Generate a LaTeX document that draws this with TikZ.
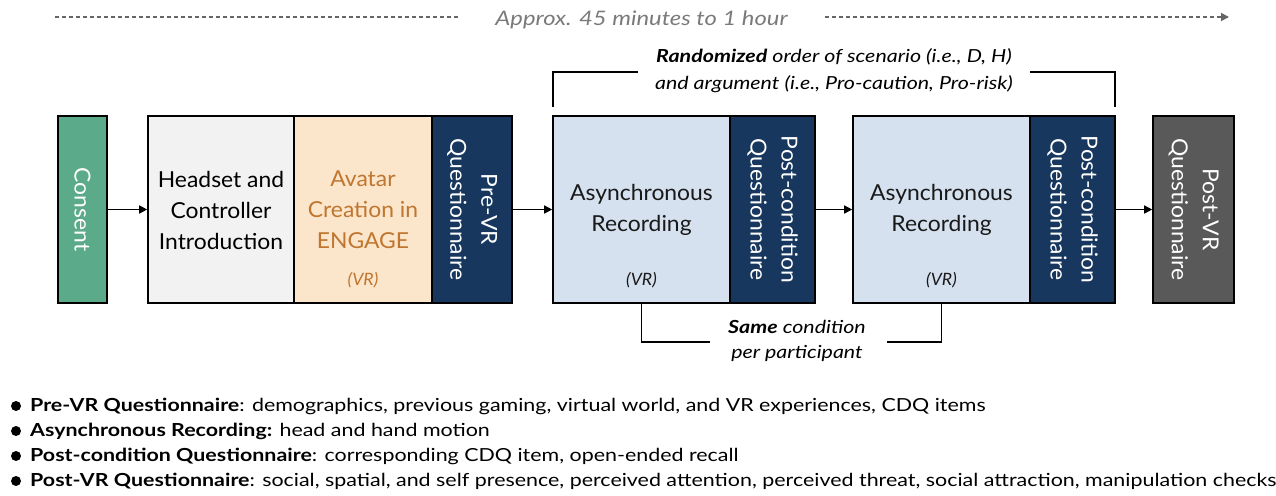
\documentclass[tikz,border=0pt]{standalone}
\usepackage{fontspec}
\setmainfont{Lato}[FakeStretch=1.04]
\newfontfamily\widefont{Lato}[FakeStretch=1.19]
\usetikzlibrary{arrows.meta}

\definecolor{consentgreen}{HTML}{5BAA89}
\definecolor{introgray}{HTML}{F2F2F2}
\definecolor{avatarpeach}{HTML}{FBE5CB}
\definecolor{avatartext}{HTML}{C0762F}
\definecolor{qnavy}{HTML}{17375E}
\definecolor{reclight}{HTML}{D5E1EF}
\definecolor{postgray}{HTML}{595959}
\definecolor{timegray}{HTML}{7A7A7A}
\definecolor{dashgray}{HTML}{666666}

\begin{document}
\begin{tikzpicture}[x=1pt,y=-1pt,
  box/.style={draw=black, line width=1.6pt, inner sep=0pt, minimum height=187},
  boxtext/.style={align=center, font=\fontsize{22}{31}\selectfont, inner sep=0pt},
  rottext/.style={boxtext, rotate=-90, text=white},
  vrtag/.style={anchor=base, inner sep=0pt, font=\fontsize{17}{20}\selectfont\itshape},
  note/.style={anchor=base, inner sep=0pt, font=\widefont\fontsize{18}{22}\selectfont\itshape},
  legend/.style={anchor=base west, inner sep=0pt, font=\widefont\fontsize{18}{22}\selectfont},
  flow/.style={line width=1.5pt, -{Triangle[length=8pt,width=8pt]}},
  bracket/.style={line width=1.2pt},
  timeline/.style={dashgray, line width=1.8pt, dash pattern=on 4pt off 3pt}
]
\useasboundingbox (0,0) rectangle (1276,495);

% time span
\coordinate (tlA) at (55,17);
\coordinate (tlB) at (458,17);
\coordinate (tlC) at (825,17);
\coordinate (tlD) at (1229,17);
\draw[timeline] (tlA) -- (tlB);
\draw[timeline, -{Triangle[length=8pt,width=8pt]}] (tlC) -- (tlD);
\node[anchor=base, inner sep=0pt, text=timegray, font=\widefont\fontsize{20}{24}\selectfont\itshape] (time) at (641.5,26) {Approx. 45 minutes to 1 hour};

% procedure boxes
\node[box, fill=consentgreen, minimum width=49] (consent) at (82.5,209.5) {};
\node[box, fill=introgray,    minimum width=146] (headset) at (221,209.5) {};
\node[box, fill=avatarpeach,  minimum width=138] (avatar) at (363,209.5) {};
\node[box, fill=qnavy,        minimum width=80] (prevr) at (472,209.5) {};
\node[box, fill=reclight,     minimum width=177] (async1) at (641.5,209.5) {};
\node[box, fill=qnavy,        minimum width=85] (postc1) at (772.5,209.5) {};
\node[box, fill=reclight,     minimum width=177] (async2) at (941.5,209.5) {};
\node[box, fill=qnavy,        minimum width=85] (postc2) at (1072.5,209.5) {};
\node[box, fill=postgray,     minimum width=81] (postvr) at (1193.5,209.5) {};

% box labels
\node[rottext] (consentT) at (consent) {Consent};
\node[boxtext] (headsetT) at (221,210) {Headset and\\Controller\\Introduction};
\node[boxtext, text=avatartext] (avatarT) at (363,210) {Avatar\\Creation in\\ENGAGE};
\node[vrtag, text=avatartext] (avatarVR) at (363,285) {(VR)};
\node[rottext] (prevrT) at (prevr) {Pre-VR\\Questionnaire};
\node[boxtext, text=black!90] (async1T) at (641.5,210) {Asynchronous\\Recording};
\node[vrtag, text=black!90] (async1VR) at (641.5,285) {(VR)};
\node[rottext] (postc1T) at (postc1) {Post-condition\\Questionnaire};
\node[boxtext, text=black!90] (async2T) at (941.5,210) {Asynchronous\\Recording};
\node[vrtag, text=black!90] (async2VR) at (941.5,285) {(VR)};
\node[rottext] (postc2T) at (postc2) {Post-condition\\Questionnaire};
\node[rottext] (postvrT) at (postvr) {Post-VR\\Questionnaire};

% flow arrows
\draw[flow] (consent.east) -- (headset.west);
\draw[flow] (prevr.east) -- (async1.west);
\draw[flow] (postc1.east) -- (async2.west);
\draw[flow] (postc2.east) -- (postvr.west);

% randomization bracket
\coordinate (rndL) at (553,107);
\coordinate (rndLe) at (638,72);
\coordinate (rndR) at (1115,107);
\coordinate (rndRe) at (1030,72);
\draw[bracket] (rndL) |- (rndLe);
\draw[bracket] (rndR) |- (rndRe);
\node[note] (rnd1) at (834,63) {\textbf{Randomized} order of scenario (i.e., D, H)};
\node[note] (rnd2) at (834,89) {and argument (i.e., Pro-caution, Pro-risk)};

% same-condition bracket
\coordinate (sameL) at (710,342);
\coordinate (sameR) at (887,342);
\draw[bracket] (async1.south) |- (sameL);
\draw[bracket] (async2.south) |- (sameR);
\node[note] (same1) at (797,333) {\textbf{Same} condition};
\node[note] (same2) at (797,358) {per participant};

% legend
\foreach \yy in {406,431,456,481} \fill (16,\yy) circle (5);
\node[legend] (leg1) at (30,411) {\textbf{Pre-VR Questionnaire}: demographics, previous gaming, virtual world, and VR experiences, CDQ items};
\node[legend] (leg2) at (30,436) {\textbf{Asynchronous Recording:} head and hand motion};
\node[legend] (leg3) at (30,461) {\textbf{Post-condition Questionnaire}: corresponding CDQ item, open-ended recall};
\node[legend] (leg4) at (30,486) {\textbf{Post-VR Questionnaire}: social, spatial, and self presence, perceived attention, perceived threat, social attraction, manipulation checks};
\end{tikzpicture}
\end{document}
